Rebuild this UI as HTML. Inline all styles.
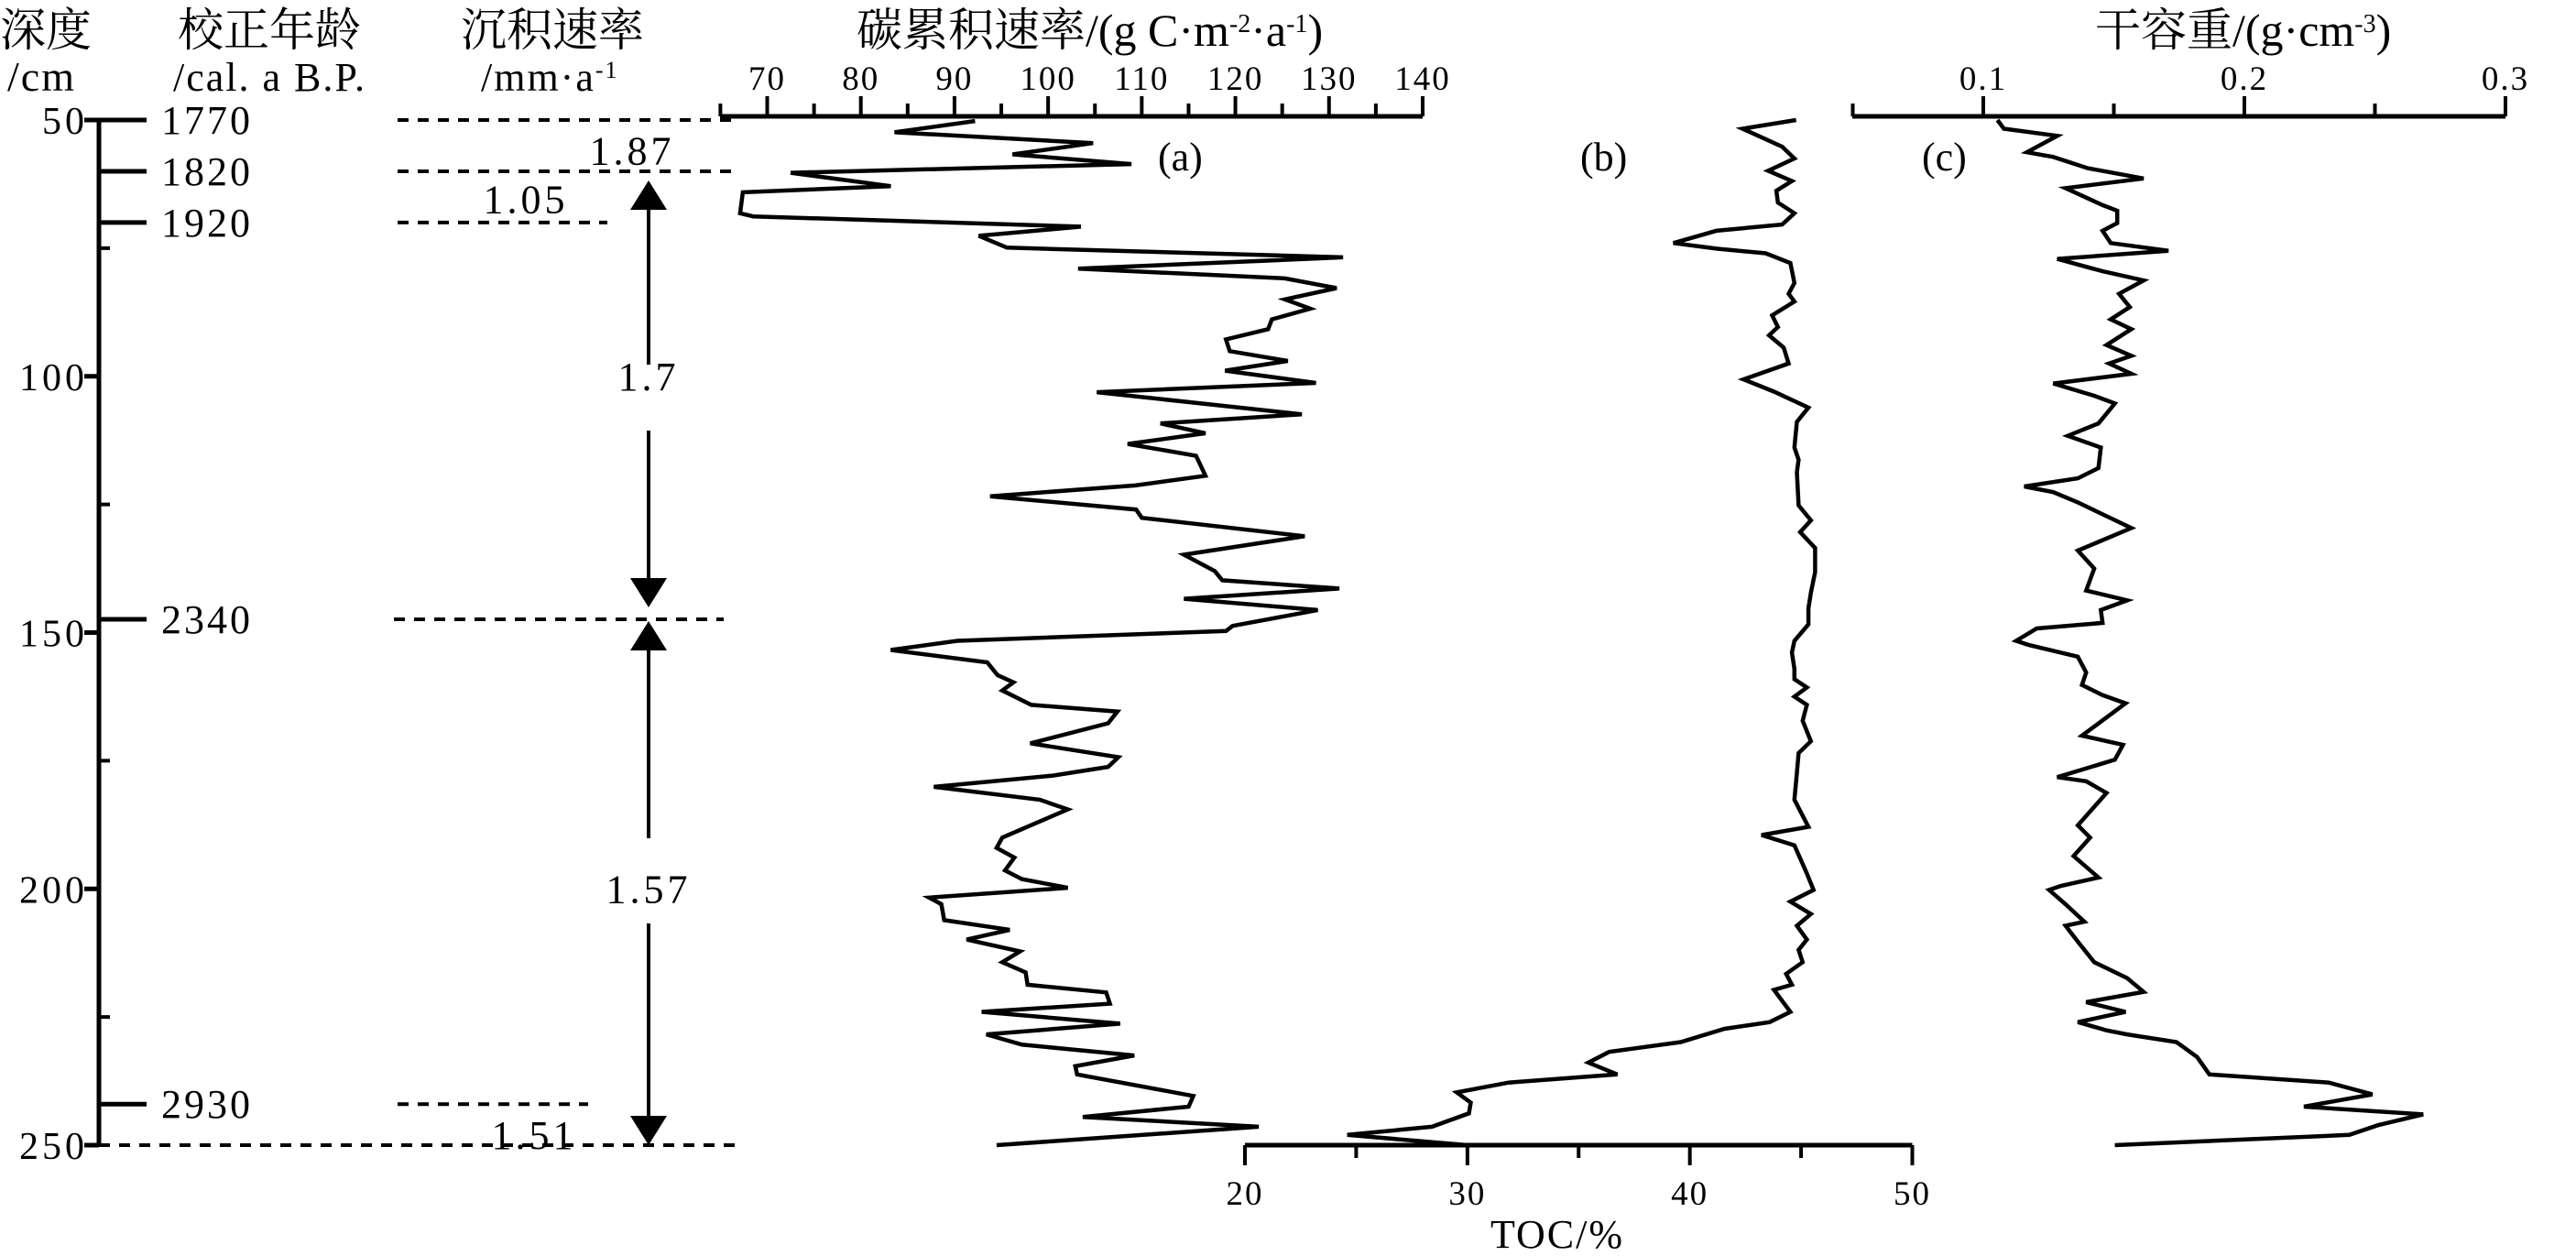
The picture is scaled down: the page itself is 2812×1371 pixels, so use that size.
<!DOCTYPE html>
<html><head><meta charset="utf-8">
<style>
html,body{margin:0;padding:0;background:#fff;}
svg{display:block;font-family:"Liberation Serif","Noto Serif CJK SC","Noto Sans CJK SC",serif;}
text{fill:#000;}
</style></head>
<body>
<svg id="chart" width="2812" height="1371" viewBox="0 0 2812 1371" xmlns="http://www.w3.org/2000/svg">
<g font-size="50">
<text x="0" y="50">深度</text>
<text x="8" y="99" font-size="46" letter-spacing="2">/cm</text>
<text x="194" y="50">校正年龄</text>
<text x="189" y="99" font-size="44" letter-spacing="2">/cal. a B.P.</text>
<text x="503" y="50">沉积速率</text>
<text x="525" y="99" font-size="44" letter-spacing="2">/mm·a<tspan baseline-shift="super" font-size="26">-1</tspan></text>
<text x="935" y="50">碳累积速率/(g C·m<tspan baseline-shift="super" font-size="28">-2</tspan>·a<tspan baseline-shift="super" font-size="28">-1</tspan>)</text>
<text x="2287" y="50">干容重/(g·cm<tspan baseline-shift="super" font-size="28">-3</tspan>)</text>
</g>
<g id="axes"></g>
<g id="series"></g>
<text x="1264" y="186" font-size="44">(a)</text>
<text x="1725" y="186" font-size="44">(b)</text>
<text x="2098" y="186" font-size="44">(c)</text>
</svg>
<script>
// ---- data ----
const depthTicks = [50,100,150,200,250];
const depthMinor = [75,125,175,225];
const ageLabels = ["1770","1820","1920","2340","2930"];
const ageDepths = [50,60,70,147.4,242];
const rateLabels = ["1.87","1.05","1.7","1.57","1.51"];
const aTicks = [70,80,90,100,110,120,130,140];
const bTicks = [20,30,40,50];
const cTicks = [0.1,0.2,0.3];
const aValues = [92.2,83.6,104.8,96.2,108.9,72.5,83.2,67.4,67.1,68.5,103.5,92.6,95.6,131.5,103.2,125.3,130.8,125.3,128.0,123.9,123.5,119.0,119.4,125.6,118.9,128.6,105.2,127.1,112.0,116.8,108.5,115.8,116.8,109.3,93.8,109.4,110.0,127.4,114.5,117.8,118.6,131.1,114.5,128.8,119.7,119.0,90.3,83.2,93.5,94.6,96.3,95.1,98.2,107.4,106.4,98.1,107.5,106.4,100.5,87.8,99.1,102.1,95.1,94.5,96.4,95.4,97.2,102.1,87.3,88.6,88.9,95.9,91.3,97.0,95.1,97.6,97.8,106.2,106.6,92.9,107.7,93.4,97.2,109.2,102.9,103.1,115.5,115.0,103.7,122.5,94.5];
const aDepths = [50.2,52.4,54.5,56.7,58.6,60.3,62.9,64.1,68.2,68.8,70.8,72.6,74.9,76.8,79.0,80.9,82.8,85.0,86.8,88.9,90.8,92.8,95.1,97.0,98.9,101.3,103.1,107.4,109.2,111.1,113.2,115.5,119.4,121.3,123.4,126.0,127.6,131.2,134.8,138.0,139.8,141.4,143.4,145.6,148.7,149.7,151.6,153.4,155.8,158.3,159.7,161.3,164.1,165.4,167.7,171.6,174.3,176.2,177.9,180.1,182.6,184.5,190.0,192.0,193.9,196.4,198.1,199.8,201.7,203.0,206.1,208.0,209.9,212.2,214.3,216.3,218.7,220.2,222.4,224.0,226.3,228.4,230.4,232.5,234.6,236.2,240.4,242.5,244.5,246.4,250];
const bValues = [44.78,42.37,44.15,44.7,43.52,44.59,43.89,43.96,44.7,44.15,41.19,39.26,41.19,43.41,44.52,44.7,44.44,44.7,43.7,43.96,43.56,44.22,44.44,42.41,43.78,45.33,44.81,44.7,44.89,44.81,44.89,45.44,44.96,45.63,45.63,45.44,45.33,45.33,44.7,44.59,44.7,44.7,45.26,44.7,45.26,45.07,45.44,44.89,44.81,44.7,45.33,43.22,44.7,45.26,45.56,44.52,45.44,44.81,45.26,44.89,45.07,44.33,44.59,43.78,44.52,43.59,41.56,39.59,36.37,35.44,36.74,31.85,29.52,30.15,30.07,28.41,24.6,30];
const bDepths = [50,51.7,55.2,57.5,59.9,61.9,63.8,66.1,68.2,70.4,71.6,74.0,75.1,76.0,77.9,81.8,83.9,85.4,88.1,90.4,92.0,94.4,97.5,100.6,103.0,106.1,108.9,113.9,116.3,118.7,125.2,128.1,130.4,133.5,138.2,142.2,145.3,148.4,151.6,153.9,157.1,159.1,160.7,162.5,164.1,167.2,171.2,173.5,177.4,182.6,187.9,189.5,191.5,197.0,200.2,202.5,204.9,207.2,209.9,211.9,214.3,216.6,218.7,219.7,224.0,226.0,227.3,229.9,231.8,233.9,236.2,237.8,239.7,241.7,243.8,246.4,248.0,250];
const cValues = [0.1054,0.1079,0.1283,0.1167,0.1268,0.1400,0.1614,0.1315,0.1457,0.1513,0.1513,0.1457,0.1488,0.1709,0.1283,0.1457,0.1614,0.1520,0.1561,0.1488,0.1567,0.1472,0.1567,0.1482,0.1567,0.1268,0.1425,0.1504,0.1441,0.1324,0.1450,0.1441,0.1362,0.1157,0.1268,0.1362,0.1567,0.1362,0.1425,0.1394,0.1551,0.1450,0.1457,0.1205,0.1126,0.1173,0.1362,0.1394,0.1378,0.1457,0.1545,0.1378,0.1535,0.1504,0.1283,0.1394,0.1472,0.1362,0.1409,0.1346,0.1441,0.1299,0.1252,0.1315,0.1387,0.1315,0.1362,0.1425,0.1551,0.1614,0.1394,0.1545,0.1362,0.1472,0.1551,0.1740,0.1819,0.1866,0.2323,0.2490,0.2228,0.2685,0.2512,0.2402,0.1504];
const cDepths = [50,51.7,53.1,56.3,57.2,59.4,61.4,63.3,66.6,67.7,70.1,71.6,74.0,75.5,77.1,79.5,81.3,83.9,86.5,88.9,90.8,93.9,96.0,97.5,99.5,101.4,103.8,105.3,109.2,111.6,113.9,117.9,119.9,121.5,122.6,124.6,129.6,134.0,137.5,141.8,143.7,145.6,148.1,149.2,151.6,152.4,154.7,157.8,160.2,162.2,163.8,170.1,171.9,174.8,178.2,179.0,181.3,187.6,190.0,193.6,197.8,199.4,200.2,203.0,206.4,207.2,210.3,214.3,217.4,220.1,222.1,224.0,226.0,227.6,228.4,229.9,232.8,236.2,237.8,240.1,242.5,244.0,246.1,248.0,250];

// ---- scales ----
const yD = d => 131 + (d - 50) * (1250 - 131) / 200;
const xA = v => 837.5 + (v - 70) * (1553 - 837.5) / 70;
const xB = v => 1359 + (v - 20) * (2087.5 - 1359) / 30;
const xC = v => 2165 + (v - 0.1) * (2735 - 2165) / 0.2;

const NS = "http://www.w3.org/2000/svg";
const axes = document.getElementById('axes');
const series = document.getElementById('series');
function mk(tag, attrs, parent, txt) {
  const e = document.createElementNS(NS, tag);
  for (const k in attrs) e.setAttribute(k, attrs[k]);
  if (txt !== undefined) e.textContent = txt;
  parent.appendChild(e);
  return e;
}
function line(x1,y1,x2,y2,w,parent,dash){
  const a={x1,y1,x2,y2,stroke:'#000','stroke-width':w};
  if(dash) a['stroke-dasharray']=dash;
  return mk('line',a,parent);
}

// depth axis
let e = line(108,yD(50),108,yD(250),5,axes);


depthTicks.forEach(d=>{
  const t=line(92,yD(d),108,yD(d),5,axes);
  
  
  const l=mk('text',{x:96,y:yD(d)+15,'text-anchor':'end','font-size':42,'letter-spacing':4},axes,String(d));
  
  
});
depthMinor.forEach(d=>{
  const t=line(108,yD(d),120,yD(d),4,axes);
  
  
});
ageDepths.forEach((d,i)=>{
  const t=line(108,yD(d),160,yD(d),5,axes);
  
  
  const l=mk('text',{x:176,y:yD(d)+15,'font-size':44,'letter-spacing':3},axes,ageLabels[i]);
  
  
});

// dashed lines
const dashSpecs=[[50,434,802],[60,434,802],[70,434,663],[147.4,430,790],[242,434,642],[250,108,802]];
dashSpecs.forEach(s=>{
  const t=line(s[1],yD(s[0]),s[2],yD(s[0]),4,axes,'12 10');
  
  
});
// rate labels
const ratePos=[[690,56],[574,65.5],[708,100],[708,200],[583,248]];
rateLabels.forEach((r,i)=>{
  const l=mk('text',{x:ratePos[i][0],y:yD(ratePos[i][1])+15,'text-anchor':'middle','font-size':44,'letter-spacing':4},axes,r);
  
  
});
// arrows
function arrowHead(x,tipY,dir){
  const h=32,w=20;
  const p=mk('polygon',{points:`${x},${tipY} ${x-w},${tipY+dir*h} ${x+w},${tipY+dir*h}`,fill:'#000'},axes);
  
  
}
const AX=708;
[[200,398],[470,660],[690,915],[1008,1245]].forEach(s=>{
  const t=line(AX,s[0],AX,s[1],4,axes);
  
  
});
arrowHead(AX,197,1);arrowHead(AX,663,-1);arrowHead(AX,678,1);arrowHead(AX,1250,-1);

// panel a axis (top)
e=line(786,127,1553,127,5,axes);


for(let v=65;v<=140;v+=5){
  const major=(v%10===0);
  const t=line(xA(v),127,xA(v),major?105:113,4,axes);
  
  
}
aTicks.forEach(v=>{
  const l=mk('text',{x:xA(v),y:98,'text-anchor':'middle','font-size':37,'letter-spacing':2},axes,String(v));
  
  
});
// panel b axis (bottom)
e=line(1359,1250,2087.5,1250,5,axes);


for(let v=20;v<=50;v+=5){
  const major=(v%10===0);
  const t=line(xB(v),1250,xB(v),major?1272:1264,4,axes);
  
  
}
bTicks.forEach(v=>{
  const l=mk('text',{x:xB(v),y:1315,'text-anchor':'middle','font-size':37,'letter-spacing':2},axes,String(v));
  
  
});
e=mk('text',{x:1700,y:1362,'text-anchor':'middle','font-size':44,'letter-spacing':2},axes,'TOC/%');


// panel c axis (top)
e=line(2022,127,2735,127,5,axes);


[0.05,0.1,0.15,0.2,0.25,0.3].forEach((v,i)=>{
  const major=(i%2===1);
  const t=line(xC(v),127,xC(v),major?105:113,4,axes);
  
  
});
cTicks.forEach(v=>{
  const l=mk('text',{x:xC(v),y:98,'text-anchor':'middle','font-size':37,'letter-spacing':2},axes,String(v));
  
  
});

// series
function drawSeries(vals,deps,xf,name){
  const pts=vals.map((v,i)=>xf(v).toFixed(1)+','+yD(deps[i]).toFixed(1)).join(' ');
  const p=mk('polyline',{points:pts,fill:'none',stroke:'#000','stroke-width':4.5,'stroke-linejoin':'miter','stroke-miterlimit':4},series);
  
  
}
drawSeries(aValues,aDepths,xA,'carbon-accumulation-line');
drawSeries(bValues,bDepths,xB,'toc-line');
drawSeries(cValues,cDepths,xC,'dry-bulk-density-line');
</script>
</body></html>
